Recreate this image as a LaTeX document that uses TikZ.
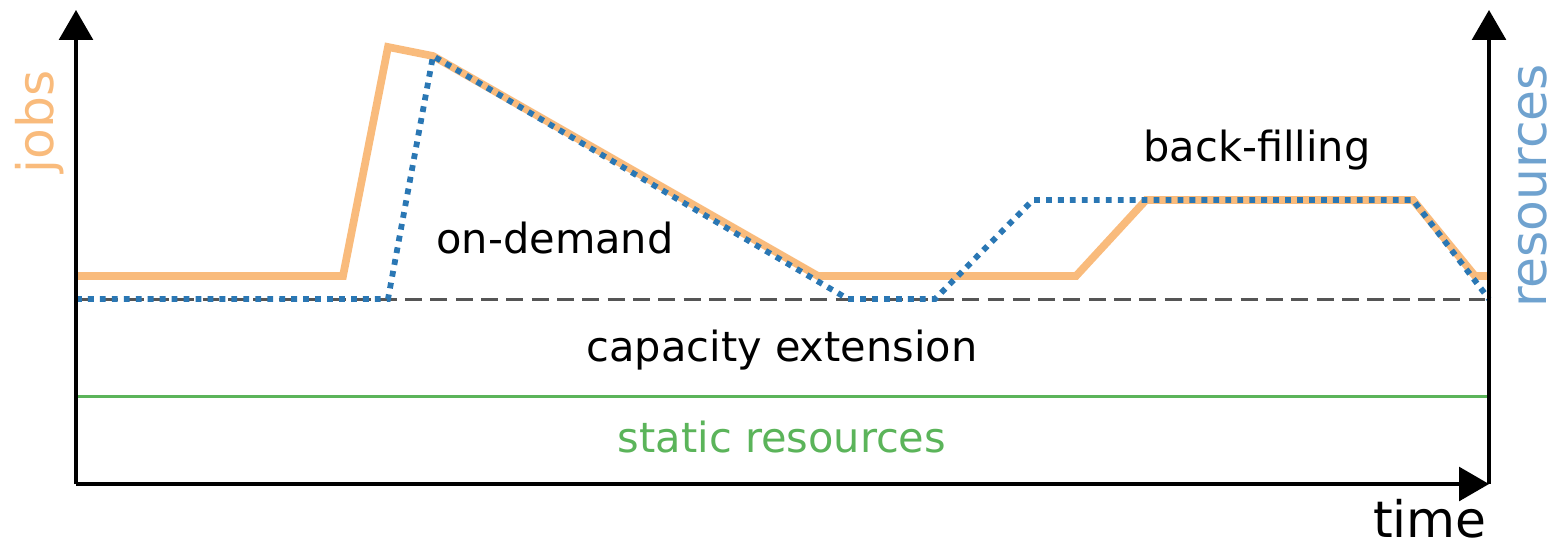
\documentclass[tikz,border=0pt]{standalone}
\usepackage{fontspec}
\setmainfont{DejaVu Sans}
\usetikzlibrary{arrows.meta}
\definecolor{jobc}{HTML}{F9BB7C}
\definecolor{resc}{HTML}{2A77B4}
\definecolor{reslab}{HTML}{6FA2CF}
\definecolor{grn}{HTML}{5BB45A}
\definecolor{gry}{HTML}{555555}
\tikzset{
  axis/.style={line width=0.9pt, -{Triangle[width=9.6pt,length=8.5pt]}},
  jobline/.style={jobc, line width=2.2pt, line join=miter},
  resline/.style={resc, line width=1.65pt, dash pattern=on 1.65pt off 1.75pt},
  capline/.style={gry, line width=0.85pt, dash pattern=on 4.8pt off 2.4pt},
  statline/.style={grn, line width=0.85pt},
  inner/.style={font=\fontsize{11.8pt}{14pt}\selectfont, inner sep=0pt},
  axlab/.style={font=\fontsize{14.3pt}{17pt}\selectfont, inner sep=0pt}
}
\begin{document}
\begin{tikzpicture}[x=0.01cm, y=-0.01cm]
\useasboundingbox (0,0) rectangle (1555,545);
\coordinate (o) at (76,484);
\coordinate (ytop) at (76,10);
\coordinate (br) at (1489,484);
\coordinate (rtop) at (1489,10);
\coordinate (capL) at (76,299);
\coordinate (capR) at (1489,299);
\coordinate (stL) at (76,396);
\coordinate (stR) at (1489,396);
% reference lines
\draw[statline] (stL) -- (stR);
\draw[capline] (capL) -- (capR);
% jobs curve
\draw[jobline] (76,276) -- (343,276) -- (388,47) -- (433,56) -- (818,276) -- (1076,276) -- (1146,200) -- (1413,200) -- (1475,276) -- (1489,276);
% resources curve
\draw[resline] (capL) -- (388,299) -- (433,56) -- (848,299) -- (935,299) -- (1033,200) -- (1413,200) -- (capR);
% axes
\draw[axis] (o) -- (ytop);
\draw[axis] (br) -- (rtop);
\draw[axis] (o) -- (br);
% labels
\node[axlab, text=jobc, rotate=90] (jobs) at (40,122) {jobs};
\node[axlab, text=reslab, rotate=90] (res) at (1533,186) {resources};
\node[axlab] (time) at (1430,519) {time};
\node[inner] (od) at (555,238) {on-demand};
\node[inner] (bf) at (1257,150) {back-filling};
\node[inner] (ce) at (782,350) {capacity extension};
\node[inner, text=grn] (sr) at (782,437) {static resources};
\end{tikzpicture}
\end{document}
